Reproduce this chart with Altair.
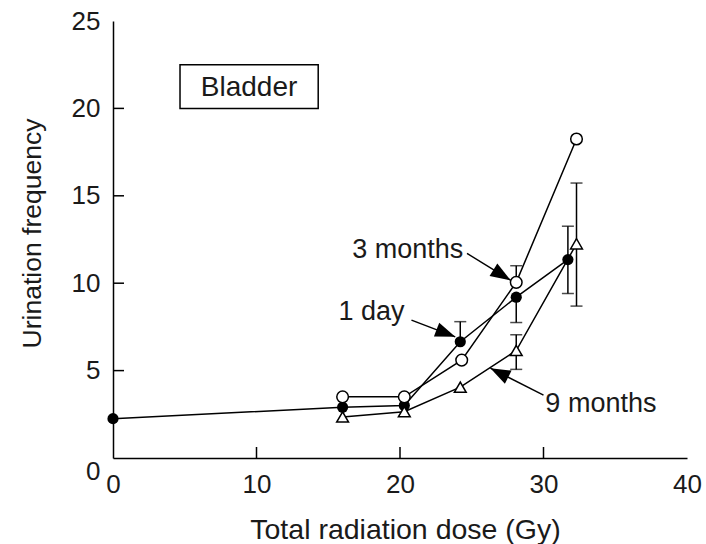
import math
import altair as alt
import pandas as pd

# ---- data ----
x_day = [0, 16, 20.3, 24.2, 28.1, 31.7]
y_day = [2.25, 2.9, 3.0, 6.65, 9.2, 11.35]
x_3m = [16, 20.3, 24.3, 28.1, 32.3]
y_3m = [3.5, 3.5, 5.6, 10.05, 18.25]
x_9m = [16, 20.3, 24.2, 28.1, 32.3]
y_9m = [2.35, 2.65, 4.05, 6.15, 12.25]

# error whiskers: from the point value to the capped end
err_x = [24.2, 28.1, 28.1, 28.1, 28.1, 31.7, 31.7, 32.3, 32.3]
err_from = [6.65, 10.05, 9.2, 6.15, 6.15, 11.35, 11.35, 12.25, 12.25]
err_to = [7.8, 11.0, 7.75, 7.05, 5.07, 13.26, 9.41, 15.73, 8.69]

ann_text = ["Bladder", "3 months", "1 day", "9 months"]
ann_x = [9.48, 20.54, 18.02, 34.0]
ann_y = [20.71, 11.44, 7.89, 2.65]
ann_size = [28, 27, 27, 27]

arrow_x0 = [24.67, 20.8, 30.0]
arrow_y0 = [11.7, 7.89, 3.6]
arrow_x1 = [27.7, 23.85, 26.3]
arrow_y1 = [10.17, 6.93, 5.14]

box_x = [4.67, 14.3]
box_y = [20.0, 22.5]

x_tick_labels = [0, 10, 20, 30, 40]
y_tick_labels = [0, 5, 10, 15, 20, 25]
x_inner_ticks = [10, 20, 30]
y_inner_ticks = [5, 10, 15, 20]

W, H = 574, 437
XMAX, YMAX = 40, 25
FONT = "Liberation Sans"

# ---- tables ----
series = pd.DataFrame(
    [{"x": a, "y": b, "s": "1 day"} for a, b in zip(x_day, y_day)]
    + [{"x": a, "y": b, "s": "3 months"} for a, b in zip(x_3m, y_3m)]
    + [{"x": a, "y": b, "s": "9 months"} for a, b in zip(x_9m, y_9m)]
)
day_df = series[series.s == "1 day"]
m3_df = series[series.s == "3 months"]
m9_df = series[series.s == "9 months"]
err_df = pd.DataFrame({"x": err_x, "y0": err_from, "y1": err_to})
ann_df = pd.DataFrame({"t": ann_text, "x": ann_x, "y": ann_y, "fs": ann_size})

angles = []
for x0, y0, x1, y1 in zip(arrow_x0, arrow_y0, arrow_x1, arrow_y1):
    dx = (x1 - x0) * W / XMAX
    dy = -(y1 - y0) * H / YMAX
    angles.append(math.degrees(math.atan2(dx, -dy)) % 360)
arr_df = pd.DataFrame({"x0": arrow_x0, "y0": arrow_y0, "x1": arrow_x1,
                       "y1": arrow_y1, "ang": angles})
box_df = pd.DataFrame({"x": [box_x[0]], "x2": [box_x[1]], "y": [box_y[0]], "y2": [box_y[1]]})
xt_df = pd.DataFrame({"x": x_inner_ticks})
yt_df = pd.DataFrame({"y": y_inner_ticks})

xs = alt.Scale(domain=[0, XMAX], nice=False, zero=False)
ys = alt.Scale(domain=[0, YMAX], nice=False, zero=False)

x_axis = alt.Axis(
    values=x_tick_labels, title="Total radiation dose (Gy)", grid=False,
    ticks=False, tickSize=0, labelPadding=13, labelFlush=False,
    titleX=292, titleY=80, titleFontSize=28.5,
    titleAlign="center", titleBaseline="alphabetic")
y_axis = alt.Axis(
    values=y_tick_labels, title="Urination frequency", grid=False,
    ticks=False, tickSize=0, labelPadding=13, labelFlush=False,
    labelBaseline={"condition": {"test": "datum.value == 0", "value": "top"},
                   "value": "middle"},
    titleX=-73, titleY=212, titleFontSize=26.5,
    titleAlign="center", titleBaseline="alphabetic", titleAngle=270)


def X(f="x"):
    return alt.X(f"{f}:Q", scale=xs, axis=x_axis)


def Y(f="y"):
    return alt.Y(f"{f}:Q", scale=ys, axis=y_axis)


ytick = alt.Chart(yt_df).mark_rule(color="black", strokeWidth=1.5).encode(
    y=Y(), x=alt.value(0), x2=alt.value(11))
xtick = alt.Chart(xt_df).mark_rule(color="black", strokeWidth=1.5).encode(
    x=X(), y=alt.value(H), y2=alt.value(H - 11))

lines = alt.Chart(series).mark_line(color="black", strokeWidth=1.5).encode(
    x=X(), y=Y(), detail="s:N", order="x:Q")

err = alt.Chart(err_df).mark_rule(color="black", strokeWidth=1.5).encode(
    x=X(), y=Y("y0"), y2="y1:Q")
caps = alt.Chart(err_df).mark_tick(color="black", thickness=1.5, size=12,
                                   orient="horizontal").encode(x=X(), y=Y("y1"))

p_day = alt.Chart(day_df).mark_point(shape="circle", filled=True, color="black",
                                     size=125, opacity=1).encode(x=X(), y=Y())
p_3m = alt.Chart(m3_df).mark_point(shape="circle", filled=True, fill="white",
                                   stroke="black", strokeWidth=1.5, size=135,
                                   opacity=1).encode(x=X(), y=Y())
p_9m = alt.Chart(m9_df).mark_point(shape="triangle-up", filled=True, fill="white",
                                   stroke="black", strokeWidth=1.5, size=140,
                                   opacity=1).encode(x=X(), y=Y())

arrow_lines = alt.Chart(arr_df).mark_rule(color="black", strokeWidth=1.5).encode(
    x=X("x0"), y=Y("y0"), x2="x1:Q", y2="y1:Q")
arrow_heads = alt.Chart(arr_df).mark_point(
    shape="M0,0L-0.37,1L0.37,1Z", filled=True, color="black", size=1600, opacity=1,
    strokeWidth=0).encode(x=X("x1"), y=Y("y1"), angle=alt.Angle("ang:Q", scale=None))

box = alt.Chart(box_df).mark_rect(fill="white", stroke="black", strokeWidth=1.5).encode(
    x=X(), x2="x2:Q", y=Y(), y2="y2:Q")

texts = alt.Chart(ann_df).mark_text(font=FONT, color="#1a1a1a", align="center",
                                    baseline="alphabetic").encode(
    x=X(), y=Y(), text="t:N", size=alt.Size("fs:Q", scale=None))

chart = alt.layer(
    ytick, xtick, box, lines, err, caps, p_day, p_3m, p_9m,
    arrow_lines, arrow_heads, texts
).properties(
    width=W, height=H,
    autosize=alt.AutoSizeParams(type="none"),
    padding={"left": 113, "top": 21, "right": 706 - 113 - W, "bottom": 544 - 21 - H},
    background="white",
).configure_view(stroke=None).configure_axis(
    domainColor="black", domainWidth=1.5, labelFont=FONT, labelFontSize=26,
    labelColor="#1a1a1a", titleFont=FONT, titleFontWeight="normal",
    titleColor="#1a1a1a",
)

chart.save("out.html", embed_options={"renderer": "svg", "actions": False})
